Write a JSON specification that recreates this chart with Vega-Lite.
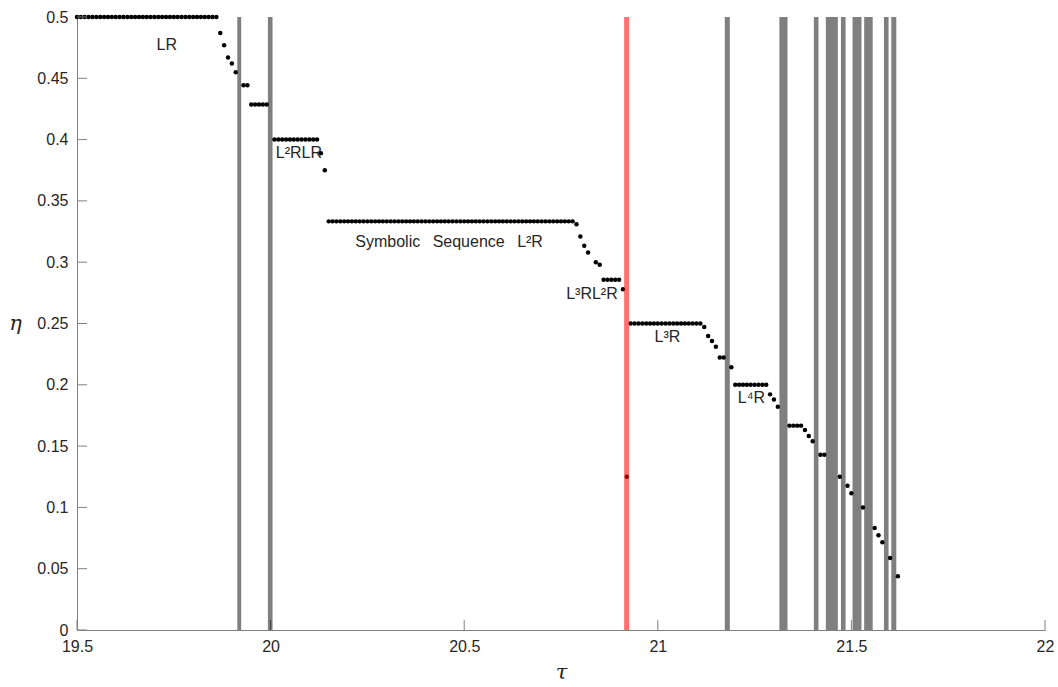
{
  "$schema": "https://vega.github.io/schema/vega-lite/v6.json",
  "width": 968,
  "height": 613,
  "autosize": {"type": "none"},
  "padding": {"left": 77, "top": 17, "right": 13, "bottom": 57},
  "background": "white",
  "config": {"view": {"stroke": null}, "font": "Liberation Sans"},
  "datasets": {
    "pts": [
      {"t": 19.50, "eta": 0.5}, {"t": 19.51, "eta": 0.5}, {"t": 19.52, "eta": 0.5}, {"t": 19.53, "eta": 0.5}, {"t": 19.54, "eta": 0.5},
      {"t": 19.55, "eta": 0.5}, {"t": 19.56, "eta": 0.5}, {"t": 19.57, "eta": 0.5}, {"t": 19.58, "eta": 0.5}, {"t": 19.59, "eta": 0.5},
      {"t": 19.60, "eta": 0.5}, {"t": 19.61, "eta": 0.5}, {"t": 19.62, "eta": 0.5}, {"t": 19.63, "eta": 0.5}, {"t": 19.64, "eta": 0.5},
      {"t": 19.65, "eta": 0.5}, {"t": 19.66, "eta": 0.5}, {"t": 19.67, "eta": 0.5}, {"t": 19.68, "eta": 0.5}, {"t": 19.69, "eta": 0.5},
      {"t": 19.70, "eta": 0.5}, {"t": 19.71, "eta": 0.5}, {"t": 19.72, "eta": 0.5}, {"t": 19.73, "eta": 0.5}, {"t": 19.74, "eta": 0.5},
      {"t": 19.75, "eta": 0.5}, {"t": 19.76, "eta": 0.5}, {"t": 19.77, "eta": 0.5}, {"t": 19.78, "eta": 0.5}, {"t": 19.79, "eta": 0.5},
      {"t": 19.80, "eta": 0.5}, {"t": 19.81, "eta": 0.5}, {"t": 19.82, "eta": 0.5}, {"t": 19.83, "eta": 0.5}, {"t": 19.84, "eta": 0.5},
      {"t": 19.85, "eta": 0.5}, {"t": 19.86, "eta": 0.5},
      {"t": 19.87, "eta": 0.487}, {"t": 19.88, "eta": 0.477}, {"t": 19.89, "eta": 0.467}, {"t": 19.90, "eta": 0.462}, {"t": 19.91, "eta": 0.455},
      {"t": 19.93, "eta": 0.4444}, {"t": 19.94, "eta": 0.4444},
      {"t": 19.95, "eta": 0.4286}, {"t": 19.96, "eta": 0.4286}, {"t": 19.97, "eta": 0.4286}, {"t": 19.98, "eta": 0.4286}, {"t": 19.99, "eta": 0.4286},
      {"t": 20.01, "eta": 0.4}, {"t": 20.02, "eta": 0.4}, {"t": 20.03, "eta": 0.4}, {"t": 20.04, "eta": 0.4}, {"t": 20.05, "eta": 0.4},
      {"t": 20.06, "eta": 0.4}, {"t": 20.07, "eta": 0.4}, {"t": 20.08, "eta": 0.4}, {"t": 20.09, "eta": 0.4}, {"t": 20.10, "eta": 0.4},
      {"t": 20.11, "eta": 0.4}, {"t": 20.12, "eta": 0.4},
      {"t": 20.13, "eta": 0.3889}, {"t": 20.14, "eta": 0.375},
      {"t": 20.15, "eta": 0.3333}, {"t": 20.16, "eta": 0.3333}, {"t": 20.17, "eta": 0.3333}, {"t": 20.18, "eta": 0.3333}, {"t": 20.19, "eta": 0.3333},
      {"t": 20.20, "eta": 0.3333}, {"t": 20.21, "eta": 0.3333}, {"t": 20.22, "eta": 0.3333}, {"t": 20.23, "eta": 0.3333}, {"t": 20.24, "eta": 0.3333},
      {"t": 20.25, "eta": 0.3333}, {"t": 20.26, "eta": 0.3333}, {"t": 20.27, "eta": 0.3333}, {"t": 20.28, "eta": 0.3333}, {"t": 20.29, "eta": 0.3333},
      {"t": 20.30, "eta": 0.3333}, {"t": 20.31, "eta": 0.3333}, {"t": 20.32, "eta": 0.3333}, {"t": 20.33, "eta": 0.3333}, {"t": 20.34, "eta": 0.3333},
      {"t": 20.35, "eta": 0.3333}, {"t": 20.36, "eta": 0.3333}, {"t": 20.37, "eta": 0.3333}, {"t": 20.38, "eta": 0.3333}, {"t": 20.39, "eta": 0.3333},
      {"t": 20.40, "eta": 0.3333}, {"t": 20.41, "eta": 0.3333}, {"t": 20.42, "eta": 0.3333}, {"t": 20.43, "eta": 0.3333}, {"t": 20.44, "eta": 0.3333},
      {"t": 20.45, "eta": 0.3333}, {"t": 20.46, "eta": 0.3333}, {"t": 20.47, "eta": 0.3333}, {"t": 20.48, "eta": 0.3333}, {"t": 20.49, "eta": 0.3333},
      {"t": 20.50, "eta": 0.3333}, {"t": 20.51, "eta": 0.3333}, {"t": 20.52, "eta": 0.3333}, {"t": 20.53, "eta": 0.3333}, {"t": 20.54, "eta": 0.3333},
      {"t": 20.55, "eta": 0.3333}, {"t": 20.56, "eta": 0.3333}, {"t": 20.57, "eta": 0.3333}, {"t": 20.58, "eta": 0.3333}, {"t": 20.59, "eta": 0.3333},
      {"t": 20.60, "eta": 0.3333}, {"t": 20.61, "eta": 0.3333}, {"t": 20.62, "eta": 0.3333}, {"t": 20.63, "eta": 0.3333}, {"t": 20.64, "eta": 0.3333},
      {"t": 20.65, "eta": 0.3333}, {"t": 20.66, "eta": 0.3333}, {"t": 20.67, "eta": 0.3333}, {"t": 20.68, "eta": 0.3333}, {"t": 20.69, "eta": 0.3333},
      {"t": 20.70, "eta": 0.3333}, {"t": 20.71, "eta": 0.3333}, {"t": 20.72, "eta": 0.3333}, {"t": 20.73, "eta": 0.3333}, {"t": 20.74, "eta": 0.3333},
      {"t": 20.75, "eta": 0.3333}, {"t": 20.76, "eta": 0.3333}, {"t": 20.77, "eta": 0.3333}, {"t": 20.78, "eta": 0.3333},
      {"t": 20.79, "eta": 0.331}, {"t": 20.80, "eta": 0.321}, {"t": 20.81, "eta": 0.3135}, {"t": 20.82, "eta": 0.308},
      {"t": 20.84, "eta": 0.300}, {"t": 20.85, "eta": 0.298},
      {"t": 20.86, "eta": 0.2857}, {"t": 20.87, "eta": 0.2857}, {"t": 20.88, "eta": 0.2857}, {"t": 20.89, "eta": 0.2857}, {"t": 20.90, "eta": 0.2857},
      {"t": 20.91, "eta": 0.278}, {"t": 20.92, "eta": 0.125},
      {"t": 20.93, "eta": 0.25}, {"t": 20.94, "eta": 0.25}, {"t": 20.95, "eta": 0.25}, {"t": 20.96, "eta": 0.25}, {"t": 20.97, "eta": 0.25},
      {"t": 20.98, "eta": 0.25}, {"t": 20.99, "eta": 0.25}, {"t": 21.00, "eta": 0.25}, {"t": 21.01, "eta": 0.25}, {"t": 21.02, "eta": 0.25},
      {"t": 21.03, "eta": 0.25}, {"t": 21.04, "eta": 0.25}, {"t": 21.05, "eta": 0.25}, {"t": 21.06, "eta": 0.25}, {"t": 21.07, "eta": 0.25},
      {"t": 21.08, "eta": 0.25}, {"t": 21.09, "eta": 0.25}, {"t": 21.10, "eta": 0.25}, {"t": 21.11, "eta": 0.25},
      {"t": 21.12, "eta": 0.2472}, {"t": 21.13, "eta": 0.2398}, {"t": 21.14, "eta": 0.2357}, {"t": 21.15, "eta": 0.2311},
      {"t": 21.16, "eta": 0.2222}, {"t": 21.17, "eta": 0.2222}, {"t": 21.19, "eta": 0.2143},
      {"t": 21.20, "eta": 0.2}, {"t": 21.21, "eta": 0.2}, {"t": 21.22, "eta": 0.2}, {"t": 21.23, "eta": 0.2}, {"t": 21.24, "eta": 0.2},
      {"t": 21.25, "eta": 0.2}, {"t": 21.26, "eta": 0.2}, {"t": 21.27, "eta": 0.2}, {"t": 21.28, "eta": 0.2},
      {"t": 21.29, "eta": 0.1922}, {"t": 21.30, "eta": 0.188}, {"t": 21.31, "eta": 0.1821},
      {"t": 21.34, "eta": 0.1667}, {"t": 21.35, "eta": 0.1667}, {"t": 21.36, "eta": 0.1667}, {"t": 21.37, "eta": 0.1667},
      {"t": 21.38, "eta": 0.1631}, {"t": 21.39, "eta": 0.1582}, {"t": 21.40, "eta": 0.1539},
      {"t": 21.42, "eta": 0.1429}, {"t": 21.43, "eta": 0.1429},
      {"t": 21.47, "eta": 0.125}, {"t": 21.49, "eta": 0.1177}, {"t": 21.50, "eta": 0.1115},
      {"t": 21.53, "eta": 0.1}, {"t": 21.56, "eta": 0.0832}, {"t": 21.57, "eta": 0.0772}, {"t": 21.58, "eta": 0.0715},
      {"t": 21.60, "eta": 0.0587}, {"t": 21.62, "eta": 0.0438}
    ],
    "bands": [
      {"t0": 19.914, "t1": 19.924, "kind": "gray"},
      {"t0": 19.993, "t1": 20.005, "kind": "gray"},
      {"t0": 20.913, "t1": 20.926, "kind": "red"},
      {"t0": 21.173, "t1": 21.186, "kind": "gray"},
      {"t0": 21.314, "t1": 21.335, "kind": "gray"},
      {"t0": 21.403, "t1": 21.415, "kind": "gray"},
      {"t0": 21.434, "t1": 21.465, "kind": "gray"},
      {"t0": 21.473, "t1": 21.485, "kind": "gray"},
      {"t0": 21.503, "t1": 21.526, "kind": "gray"},
      {"t0": 21.533, "t1": 21.555, "kind": "gray"},
      {"t0": 21.584, "t1": 21.596, "kind": "gray"},
      {"t0": 21.603, "t1": 21.616, "kind": "gray"}
    ],
    "labels": [
      {"t": 19.732, "eta": 0.477, "label": "LR"},
      {"t": 20.073, "eta": 0.389, "label": "L²RLR"},
      {"t": 20.461, "eta": 0.3165, "label": "Symbolic\u2002\u00a0Sequence\u2002\u00a0L²R"},
      {"t": 20.83, "eta": 0.274, "label": "L³RL²R"},
      {"t": 21.025, "eta": 0.239, "label": "L³R"},
      {"t": 21.242, "eta": 0.189, "label": "L⁴R"}
    ],
    "xticks": [{"t": 19.5}, {"t": 20}, {"t": 20.5}, {"t": 21}, {"t": 21.5}, {"t": 22}],
    "yticks": [{"eta": 0}, {"eta": 0.05}, {"eta": 0.1}, {"eta": 0.15}, {"eta": 0.2}, {"eta": 0.25}, {"eta": 0.3}, {"eta": 0.35}, {"eta": 0.4}, {"eta": 0.45}, {"eta": 0.5}]
  },
  "layer": [
    {
      "data": {"name": "pts"},
      "mark": {"type": "circle", "size": 20, "color": "black", "opacity": 1},
      "encoding": {
        "x": {
          "field": "t", "type": "quantitative",
          "scale": {"domain": [19.5, 22], "nice": false, "zero": false},
          "axis": {
            "title": "τ", "values": [19.5, 20, 20.5, 21, 21.5, 22], "format": "~g",
            "grid": false, "domainColor": "#808080", "ticks": false,
            "labelFlush": false, "labelPadding": 8, "labelFontSize": 16, "labelColor": "#262626", "labelFont": "Liberation Sans",
            "titleFontSize": 21, "titleFontStyle": "italic", "titleFontWeight": "normal", "titleColor": "#262626",
            "titleX": 484, "titleY": 42, "titleBaseline": "middle", "titleAlign": "center", "titleFont": "DejaVu Serif"
          }
        },
        "y": {
          "field": "eta", "type": "quantitative",
          "scale": {"domain": [0, 0.5], "nice": false},
          "axis": {
            "title": "η", "values": [0, 0.05, 0.1, 0.15, 0.2, 0.25, 0.3, 0.35, 0.4, 0.45, 0.5], "format": "~g",
            "grid": false, "domainColor": "#808080", "ticks": false,
            "labelFlush": false, "labelPadding": 9, "labelFontSize": 16, "labelColor": "#262626", "labelFont": "Liberation Sans",
            "titleFontSize": 21, "titleFontStyle": "italic", "titleFontWeight": "normal", "titleColor": "#262626",
            "titleAngle": 0, "titleX": -62, "titleY": 306, "titleBaseline": "middle", "titleAlign": "center", "titleFont": "DejaVu Serif"
          }
        }
      }
    },
    {
      "data": {"name": "xticks"},
      "mark": {"type": "rule", "color": "#808080", "strokeWidth": 1},
      "encoding": {
        "x": {"field": "t", "type": "quantitative"},
        "y": {"datum": 0, "type": "quantitative"},
        "y2": {"datum": 0.0082}
      }
    },
    {
      "data": {"name": "yticks"},
      "mark": {"type": "rule", "color": "#808080", "strokeWidth": 1},
      "encoding": {
        "y": {"field": "eta", "type": "quantitative"},
        "x": {"datum": 19.5, "type": "quantitative"},
        "x2": {"datum": 19.526}
      }
    },
    {
      "data": {"name": "bands"},
      "mark": {"type": "rect"},
      "encoding": {
        "x": {"field": "t0", "type": "quantitative"},
        "x2": {"field": "t1"},
        "color": {"field": "kind", "type": "nominal", "scale": {"domain": ["gray", "red"], "range": ["#000000", "#ff0000"]}, "legend": null},
        "opacity": {"field": "kind", "type": "nominal", "scale": {"domain": ["gray", "red"], "range": [0.5, 0.56]}, "legend": null}
      }
    },
    {
      "data": {"name": "labels"},
      "mark": {"type": "text", "fontSize": 16, "color": "#262626", "align": "center", "baseline": "middle", "font": "Liberation Sans"},
      "encoding": {
        "x": {"field": "t", "type": "quantitative"},
        "y": {"field": "eta", "type": "quantitative"},
        "text": {"field": "label"}
      }
    }
  ]
}
